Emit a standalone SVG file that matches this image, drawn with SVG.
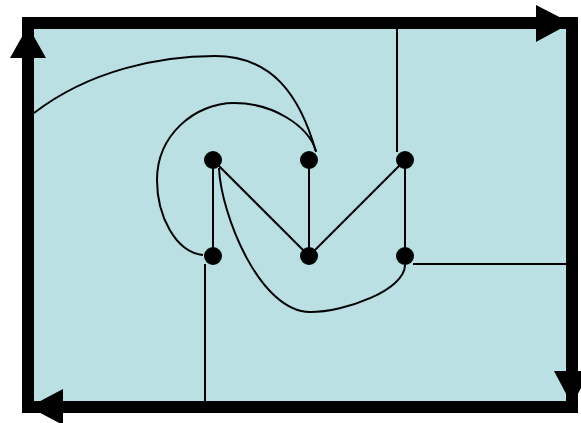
<svg xmlns="http://www.w3.org/2000/svg" width="581" height="423" viewBox="0 0 581 423">
<style>
.frame{fill:#BAE0E4;stroke:#000;stroke-width:12;stroke-linejoin:miter}
.arrow{fill:#000}
.edge{fill:none;stroke:#000;stroke-width:2}
.node{fill:#000}
</style>
<rect width="581" height="423" fill="#fff"/>
<g id="frame">
<rect class="frame" x="28" y="23" width="544" height="384"/>
<polygon class="arrow" points="10,58 46,58 28,26"/>
<polygon class="arrow" points="536,5 536,42 571,23"/>
<polygon class="arrow" points="554,371 590,371 572,405"/>
<polygon class="arrow" points="63,389 63,425 29,407"/>
</g>
<g id="connectors">
<line class="edge" x1="213" y1="160" x2="213" y2="256"/>
<line class="edge" x1="213" y1="160" x2="309" y2="256"/>
<line class="edge" x1="309" y1="160" x2="309" y2="256"/>
<line class="edge" x1="405" y1="160" x2="309" y2="256"/>
<line class="edge" x1="405" y1="160" x2="405" y2="256"/>
<path class="edge" d="M203,255 C175,252 157,215 157,180 C157,135 195,103 234,103 C272,103 308,125 316,151"/>
<path class="edge" d="M316,152 C300,95 272,56 215,56 C160,56 90,70 34,113"/>
<path class="edge" d="M219,168 C221,215 260,312 310,312 C345,312 405,290 405,265"/>
<line class="edge" x1="397" y1="29" x2="397" y2="152"/>
<line class="edge" x1="413" y1="264" x2="566" y2="264"/>
<line class="edge" x1="205" y1="264" x2="205" y2="401"/>
</g>
<g id="n1"><circle class="node" cx="213" cy="160" r="9"/></g>
<g id="n2"><circle class="node" cx="309" cy="160" r="9"/></g>
<g id="n3"><circle class="node" cx="405" cy="160" r="9"/></g>
<g id="n4"><circle class="node" cx="213" cy="256" r="9"/></g>
<g id="n5"><circle class="node" cx="309" cy="256" r="9"/></g>
<g id="n6"><circle class="node" cx="405" cy="256" r="9"/></g>
</svg>
